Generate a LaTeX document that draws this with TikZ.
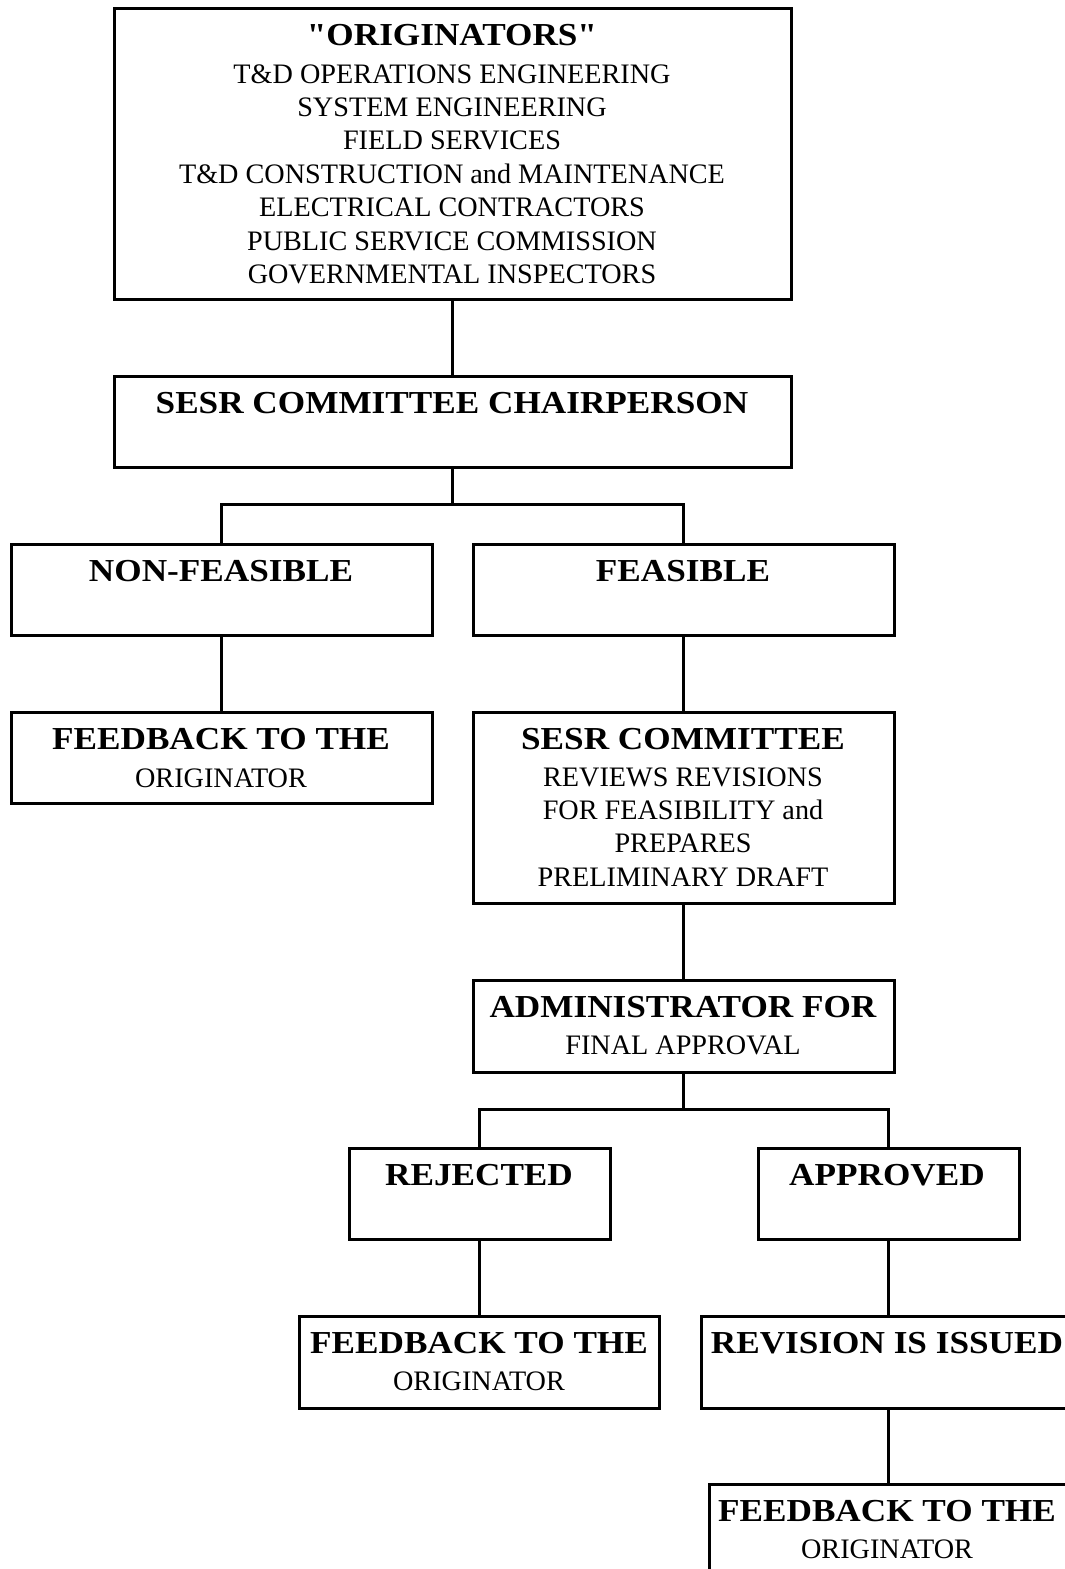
\documentclass[tikz,border=0pt]{standalone}
\usepackage{fontspec}
\setmainfont{Liberation Serif}
\newfontfamily\boldstretch[FakeStretch=1.1]{Liberation Serif Bold}
\begin{document}
\begin{tikzpicture}[x=1pt,y=-1pt,
  box/.style={draw,line width=2.8pt,inner sep=0pt,anchor=north west},
  bt/.style={font=\boldstretch\fontsize{32}{36}\selectfont,inner sep=0pt,anchor=base},
  rt/.style={font=\fontsize{28.2}{33}\selectfont,inner sep=0pt,anchor=base}]
\useasboundingbox (0,0) rectangle (1065,1569);
\fill[white] (0,0) rectangle (1065,1569);
% boxes
\node[box,minimum width=677pt,minimum height=291pt] (orig) at (113,7) {};
\node[box,minimum width=677pt,minimum height=91pt] (chair) at (113,375) {};
\node[box,minimum width=421pt,minimum height=91pt] (nf) at (10,543) {};
\node[box,minimum width=421pt,minimum height=91pt] (fe) at (472,543) {};
\node[box,minimum width=421pt,minimum height=91pt] (fbl) at (10,711) {};
\node[box,minimum width=421pt,minimum height=191pt] (sesr) at (472,711) {};
\node[box,minimum width=421pt,minimum height=92pt] (adm) at (472,979) {};
\node[box,minimum width=261pt,minimum height=91pt] (rej) at (348,1147) {};
\node[box,minimum width=261pt,minimum height=91pt] (app) at (757,1147) {};
\node[box,minimum width=360pt,minimum height=92pt] (fbm) at (298,1315) {};
\node[box,minimum width=374pt,minimum height=92pt] (rev) at (700,1315) {};
\node[box,minimum width=360pt,minimum height=100pt] (fbb) at (708,1483) {};
% texts
\node[bt] (t01) at (452,45) {"ORIGINATORS"};
\node[rt] (t02) at (452,83) {T\&D OPERATIONS ENGINEERING};
\node[rt] (t03) at (452,116) {SYSTEM ENGINEERING};
\node[rt] (t04) at (452,149.5) {FIELD SERVICES};
\node[rt] (t05) at (452,183) {T\&D CONSTRUCTION and MAINTENANCE};
\node[rt] (t06) at (452,216.5) {ELECTRICAL CONTRACTORS};
\node[rt] (t07) at (452,250) {PUBLIC SERVICE COMMISSION};
\node[rt] (t08) at (452,283) {GOVERNMENTAL INSPECTORS};
\node[bt] (t10) at (452,413) {SESR COMMITTEE CHAIRPERSON};
\node[bt] (t20) at (221,581) {NON-FEASIBLE};
\node[bt] (t30) at (683,581) {FEASIBLE};
\node[bt] (t40) at (221,749) {FEEDBACK TO THE};
\node[rt] (t41) at (221,787) {ORIGINATOR};
\node[bt] (t50) at (683,749) {SESR COMMITTEE};
\node[rt] (t51) at (683,786.5) {REVIEWS REVISIONS};
\node[rt] (t52) at (683,819) {FOR FEASIBILITY and};
\node[rt] (t53) at (683,852.5) {PREPARES};
\node[rt] (t54) at (683,886) {PRELIMINARY DRAFT};
\node[bt] (t60) at (683,1017) {ADMINISTRATOR FOR};
\node[rt] (t61) at (683,1054.5) {FINAL APPROVAL};
\node[bt] (t70) at (479,1185) {REJECTED};
\node[bt] (t80) at (887,1185) {APPROVED};
\node[bt] (t90) at (479,1353) {FEEDBACK TO THE};
\node[rt] (t91) at (479,1390) {ORIGINATOR};
\node[bt] (t100) at (887,1353) {REVISION IS ISSUED};
\node[bt] (t110) at (887,1521) {FEEDBACK TO THE};
\node[rt] (t111) at (887,1558) {ORIGINATOR};
% connectors
\coordinate (j1) at (452,504);
\coordinate (j2) at (683,1109);
\coordinate (j3) at (479,1109);
\begin{scope}[line width=3pt,line join=miter]
\draw (orig.south -| j1) -- (chair.north -| j1);
\draw (chair.south -| j1) -- (j1);
\draw (nf.north) |- (j1) -| (fe.north);
\draw (nf.south) -- (fbl.north);
\draw (fe.south) -- (sesr.north);
\draw (sesr.south) -- (adm.north);
\draw (adm.south -| j2) -- (j2);
\draw (rej.north -| j3) -- (j3) -- (j2) -| (app.north);
\draw (rej.south -| j3) -- (fbm.north -| j3);
\draw (app.south) -- (app.south |- rev.north);
\draw (app.south |- rev.south) -- (app.south |- fbb.north);
\end{scope}
\end{tikzpicture}
\end{document}
